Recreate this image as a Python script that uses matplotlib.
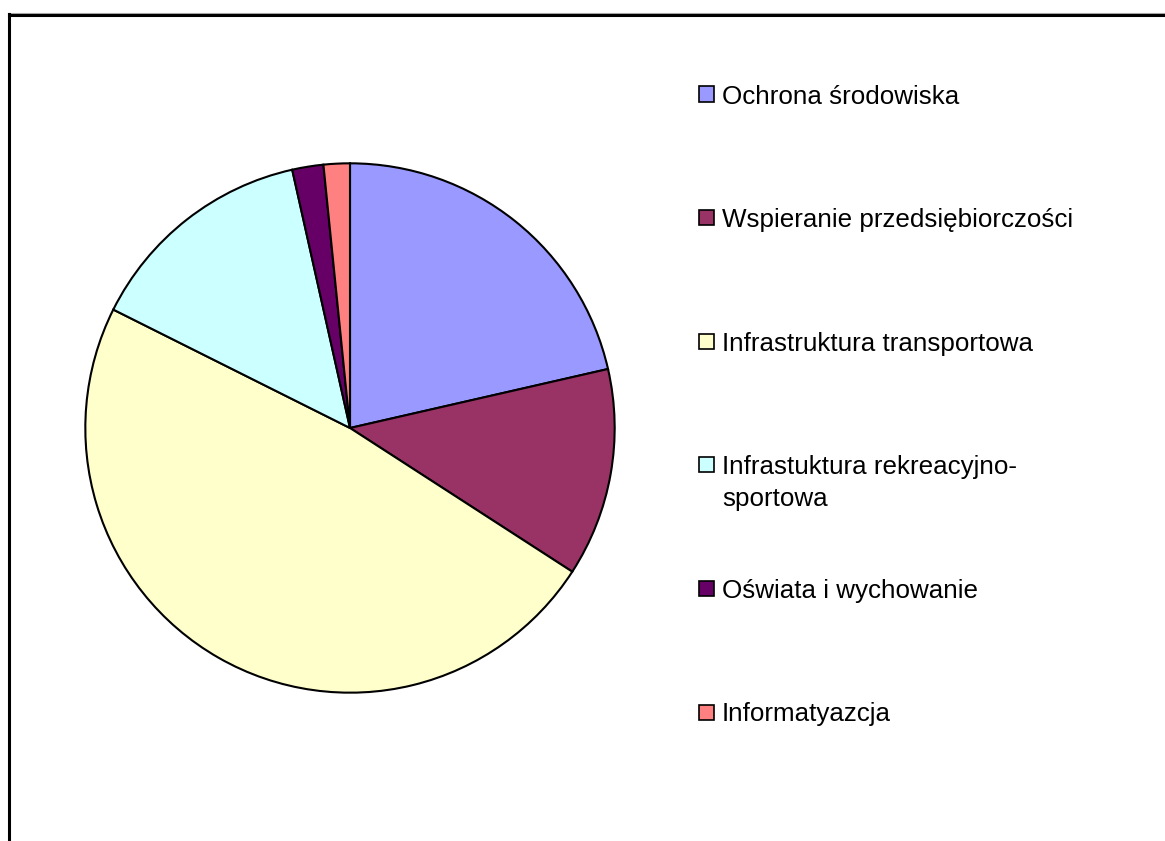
import matplotlib
matplotlib.use('Agg')
import matplotlib.pyplot as plt
from matplotlib.patches import Rectangle
from matplotlib.lines import Line2D

plt.rcParams['font.family'] = ['Liberation Sans', 'DejaVu Sans']

labels = ['Ochrona środowiska', 'Wspieranie przedsiębiorczości',
          'Infrastruktura transportowa', 'Infrastuktura rekreacyjno-\nsportowa',
          'Oświata i wychowanie', 'Informatyazcja']
shares = [21.4, 12.7, 48.2, 14.1, 1.9, 1.6]
colors = ['#9999FF', '#993366', '#FFFFCC', '#CCFFFF', '#660066', '#FF8080']

W, H = 1165, 841
fig = plt.figure(figsize=(W / 100, H / 100), dpi=100)

# pie area: centre (350, 428) px, radius 266 px
cx, cy, r = 350, 428, 266
ax = fig.add_axes([(cx - r) / W, (H - cy - r) / H, 2 * r / W, 2 * r / H])
ax.pie(shares, colors=colors, startangle=90, counterclock=False,
       wedgeprops=dict(edgecolor='black', linewidth=1.5))
ax.set_xlim(-1.005, 1.005)
ax.set_ylim(-1.005, 1.005)
ax.set_aspect('auto')
ax.axis('off')

# chart area border (top and left only visible)
fig.add_artist(Line2D([8 / W, 1], [1 - 12.5 / H, 1 - 12.5 / H], color='#aaaaaa', lw=0.8))
fig.add_artist(Line2D([8.5 / W, 1], [1 - 14.5 / H, 1 - 14.5 / H], color='black', lw=2.2))
fig.add_artist(Line2D([9 / W, 9 / W], [0, 1 - 14 / H], color='black', lw=2.2))

# legend
y0, step, line_h = 94, 123.6, 32
for i, (lab, col) in enumerate(zip(labels, colors)):
    y = y0 + i * step
    fig.add_artist(Rectangle((699 / W, 1 - (y + 7.5) / H), 15 / W, 15 / H,
                             facecolor=col, edgecolor='black', lw=1.2))
    for k, part in enumerate(lab.split('\n')):
        fig.text(722 / W, 1 - (y + k * line_h) / H, part, fontsize=18.7,
                 va='center_baseline', ha='left')

fig.savefig('out.png', dpi=100)
